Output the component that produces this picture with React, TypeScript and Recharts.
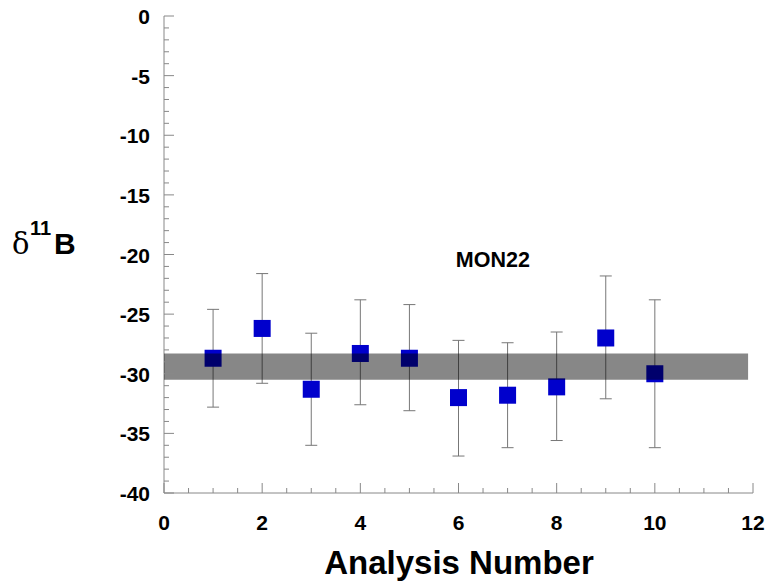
import {
  ErrorBar,
  ReferenceArea,
  ReferenceDot,
  Scatter,
  ScatterChart,
  XAxis,
  YAxis,
} from "recharts";

// values
const analysisNumber = [1, 2, 3, 4, 5, 6, 7, 8, 9, 10];
const delta11B = [-28.7, -26.2, -31.3, -28.3, -28.7, -32.0, -31.8, -31.1, -27.0, -30.0];
const barTop = [-24.6, -21.6, -26.6, -23.8, -24.2, -27.2, -27.4, -26.5, -21.8, -23.8];
const barBottom = [-32.8, -30.8, -36.0, -32.6, -33.1, -36.9, -36.2, -35.6, -32.1, -36.2];

const bandY = [-30.5, -28.3];
const bandX = [0, 11.9];

const xTicks = [0, 0.5, 1, 1.5, 2, 2.5, 3, 3.5, 4, 4.5, 5, 5.5, 6, 6.5, 7, 7.5, 8, 8.5, 9, 9.5, 10, 10.5, 11, 11.5, 12];
const yTicks = [
  0, -1, -2, -3, -4, -5, -6, -7, -8, -9, -10, -11, -12, -13, -14, -15, -16, -17, -18, -19, -20,
  -21, -22, -23, -24, -25, -26, -27, -28, -29, -30, -31, -32, -33, -34, -35, -36, -37, -38, -39, -40,
];

const FONT = "'Liberation Sans', Arial, sans-serif";
const AXIS = "#888888";

const data = analysisNumber.map((n, i) => ({
  n,
  d: delta11B[i],
  err: [delta11B[i] - barBottom[i], barTop[i] - delta11B[i]],
}));

const isMajorX = (v: number) => v % 2 === 0;
const isMajorY = (v: number) => v % 5 === 0;

function BottomTick(props: any) {
  const { x, y, payload } = props;
  const v = payload.value;
  const len = isMajorX(v) ? 10 : 5;
  return (
    <g>
      <line x1={x} x2={x} y1={y} y2={y - len} stroke={AXIS} />
      {isMajorX(v) && (
        <text x={x} y={y + 37} textAnchor="middle" fontFamily={FONT} fontWeight="bold" fontSize={21} fill="#000">
          {v}
        </text>
      )}
    </g>
  );
}

function TopTick(props: any) {
  const { x, y, payload } = props;
  const len = isMajorX(payload.value) ? 10 : 5;
  return <line x1={x} x2={x} y1={y} y2={y + len} stroke={AXIS} />;
}

function LeftTick(props: any) {
  const { x, y, payload } = props;
  const v = payload.value;
  const len = isMajorY(v) ? 10 : 5;
  return (
    <g>
      <line x1={x} x2={x + len} y1={y} y2={y} stroke={AXIS} />
      {isMajorY(v) && (
        <text x={x - 14} y={y + 8} textAnchor="end" fontFamily={FONT} fontWeight="bold" fontSize={21} fill="#000">
          {v}
        </text>
      )}
    </g>
  );
}

function RightTick(props: any) {
  const { x, y, payload } = props;
  const len = isMajorY(payload.value) ? 10 : 5;
  return <line x1={x} x2={x - len} y1={y} y2={y} stroke={AXIS} />;
}

function SquareMarker(props: any) {
  const { cx, cy } = props;
  const s = 17;
  return <rect x={cx - s / 2} y={cy - s / 2} width={s} height={s} fill="#0000cc" />;
}

export default function App() {
  return (
    <div style={{ width: 769, height: 586, position: "relative" }}>
      <style>{`body{margin:0}`}</style>
      <ScatterChart width={769} height={586} margin={{ top: 16, right: 16, bottom: 0, left: 0 }}>
        <XAxis
          dataKey="n"
          type="number"
          domain={[0, 12]}
          ticks={xTicks}
          interval={0}
          height={93}
          tickSize={0}
          tickMargin={0}
          tickLine={false}
          axisLine={{ stroke: AXIS }}
          tick={<BottomTick />}
          label={{
            content: () => (
              <text x={459} y={574} textAnchor="middle" fontFamily={FONT} fontWeight="bold" fontSize={33} fill="#000">
                Analysis Number
              </text>
            ),
          }}
        />
        <XAxis
          xAxisId="top"
          orientation="top"
          type="number"
          domain={[0, 12]}
          ticks={xTicks}
          interval={0}
          height={0}
          tickSize={0}
          tickMargin={0}
          tickLine={false}
          axisLine={{ stroke: AXIS }}
          tick={<TopTick />}
        />
        <YAxis
          dataKey="d"
          type="number"
          domain={[-40, 0]}
          ticks={yTicks}
          interval={0}
          width={164}
          tickSize={0}
          tickMargin={0}
          tickLine={false}
          axisLine={{ stroke: AXIS }}
          tick={<LeftTick />}
          label={{
            content: () => (
              <text y={254} fill="#000">
                <tspan x={12} fontFamily="'DejaVu Serif', 'Liberation Serif', serif" fontSize={29}>
                  δ
                </tspan>
                <tspan x={30} y={235} fontFamily={FONT} fontWeight="bold" fontSize={20}>
                  11
                </tspan>
                <tspan x={54} y={254} fontFamily={FONT} fontWeight="bold" fontSize={30}>
                  B
                </tspan>
              </text>
            ),
          }}
        />
        <YAxis
          yAxisId="right"
          orientation="right"
          type="number"
          domain={[-40, 0]}
          ticks={yTicks}
          interval={0}
          width={0}
          tickSize={0}
          tickMargin={0}
          tickLine={false}
          axisLine={{ stroke: AXIS }}
          tick={<RightTick />}
        />
        <Scatter data={data} dataKey="d" shape={<SquareMarker />} isAnimationActive={false}>
          <ErrorBar dataKey="err" direction="y" width={6} stroke="#777777" strokeWidth={1} />
        </Scatter>
        <ReferenceArea
          x1={bandX[0]}
          x2={bandX[1]}
          y1={bandY[0]}
          y2={bandY[1]}
          fill="#000000"
          fillOpacity={0.47}
          stroke="none"
          zIndex={700}
        />
        <ReferenceDot
          x={6.7}
          y={-20.3}
          r={0}
          shape={(p: any) => (
            <text x={p.cx} y={p.cy + 9} textAnchor="middle" fontFamily={FONT} fontWeight="bold" fontSize={21.5} fill="#000">
              MON22
            </text>
          )}
        />
      </ScatterChart>
    </div>
  );
}
